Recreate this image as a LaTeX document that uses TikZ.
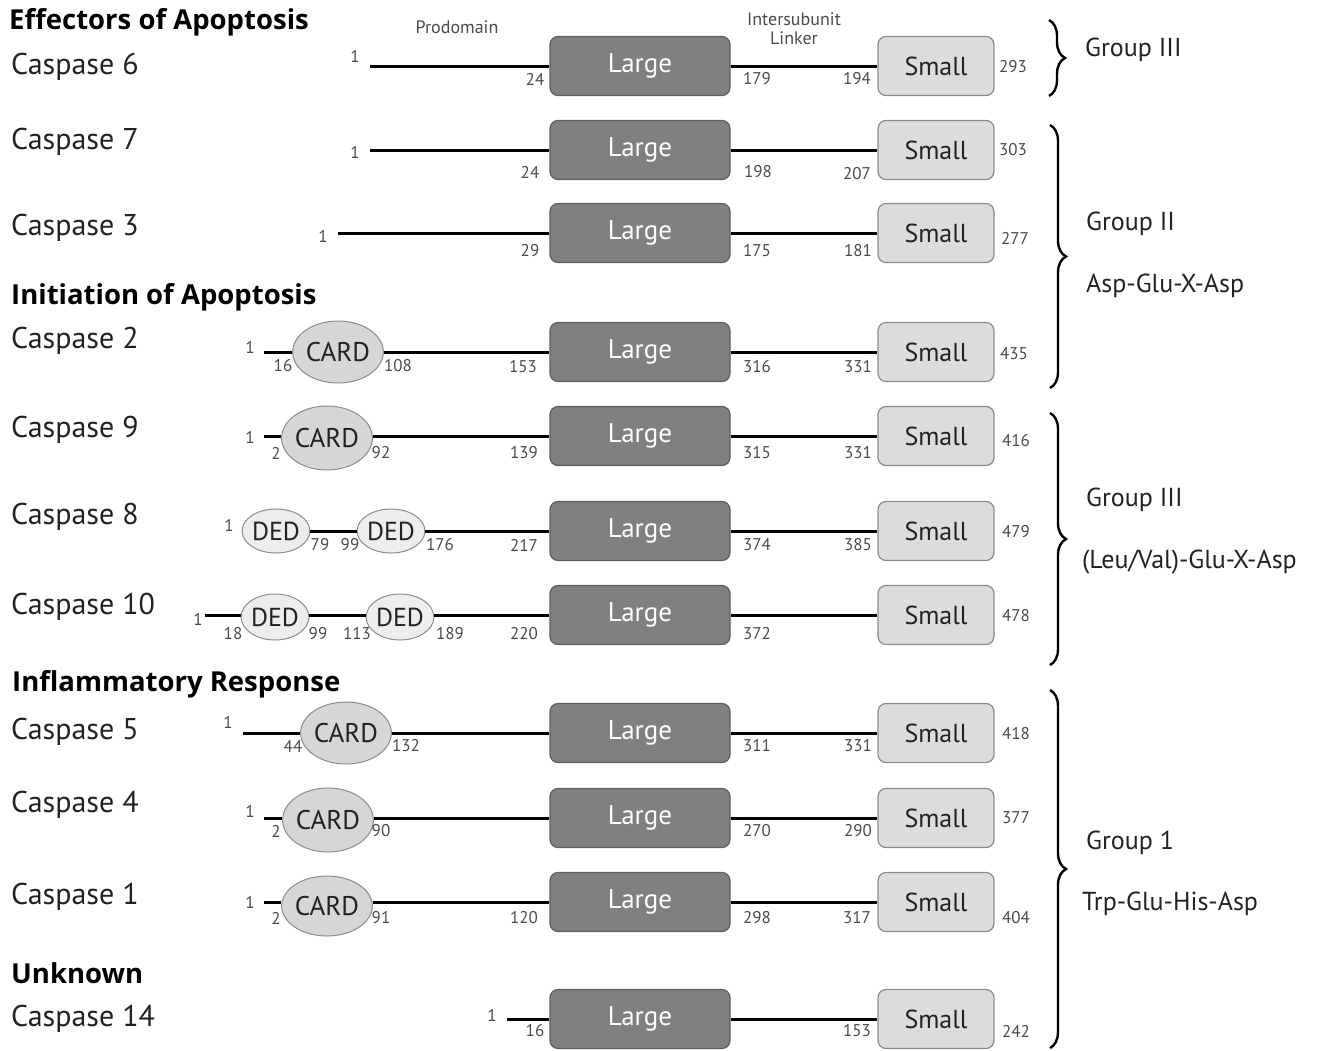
\documentclass[tikz,border=0pt]{standalone}
\usepackage{fontspec}
\setmainfont{PT Sans}
\newfontfamily\headfont{Open Sans}
\usepackage{tikz}
\usetikzlibrary{positioning, shapes.geometric, decorations.pathreplacing, backgrounds}

\definecolor{largefill}{HTML}{808080}
\definecolor{largeedge}{HTML}{5E5E5E}
\definecolor{smallfill}{HTML}{DCDCDC}
\definecolor{smalledge}{HTML}{8C8C8C}
\definecolor{cardfill}{HTML}{D6D6D6}
\definecolor{dedfill}{HTML}{EDEDED}
\definecolor{numgray}{HTML}{4A4A4A}
\definecolor{txt}{HTML}{222222}

\newcommand{\fs}[1]{\fontsize{#1}{#1}\selectfont}

\begin{document}
\begin{tikzpicture}[x=1pt, y=-1pt]
	\tikzset{large/.style={draw=largeedge, fill=largefill, rounded corners=8pt, line width=1.2pt, minimum width=180pt, minimum height=59pt, text=white, font=\fs{27}}}
	\tikzset{small/.style={draw=smalledge, fill=smallfill, rounded corners=8pt, line width=1.2pt, minimum width=116pt, minimum height=59pt, text=txt, font=\fs{26}}}
	\tikzset{card/.style={ellipse, draw=smalledge, fill=cardfill, line width=1pt, inner sep=0pt, minimum width=82pt, minimum height=62pt, text=txt, font=\fs{27}}}
	\tikzset{ded/.style={ellipse, draw=smalledge, fill=dedfill, line width=1pt, inner sep=0pt, minimum width=60pt, minimum height=44pt, text=txt, font=\fs{26}}}
	\tikzset{chain/.style={line width=3pt, black}}
	\tikzset{num/.style={text=numgray, inner sep=0pt, font=\fs{17}}}
	\tikzset{casp/.style={anchor=west, text=txt, inner sep=0pt, font=\fs{30}}}
	\tikzset{head/.style={anchor=west, text=black, inner sep=0pt, font=\headfont\bfseries\fs{27.5}}}
	\tikzset{grp/.style={anchor=west, text=txt, inner sep=0pt, font=\fs{26}}}
	\tikzset{brace/.style={decorate, decoration={brace, amplitude=16pt}, line width=2.4pt}}

	\useasboundingbox (0,0) rectangle (1323,1050);

	% subunits, same place in every row
	\foreach \r/\y in {6/66, 7/150, 3/233, 2/352, 9/436, 8/531, 10/615, 5/733, 4/818, 1/902, 14/1019}
	{
		\node[large] (L\r) at (640,\y) {Large};
		\node[small] (S\r) at (936,\y) {Small};
		\draw[chain] (L\r) -- (S\r);
	};

	% prodomains
	\coordinate (s6) at (370,66);
	\draw[chain] (s6) -- (L6);
	\coordinate (s7) at (370,150);
	\draw[chain] (s7) -- (L7);
	\coordinate (s3) at (338,233);
	\draw[chain] (s3) -- (L3);

	\coordinate (s2) at (264,352);
	\node[card] (c2) at (338,352) {CARD};
	\draw[chain] (s2) -- (c2) -- (L2);

	\coordinate (s9) at (264,436);
	\node[card, minimum width=84pt, minimum height=64pt] (c9) at (327,438) {CARD};
	\draw[chain] (s9) -- (s9 -| c9.west) (s9 -| c9.east) -- (L9);

	\node[ded] (d8a) at (276,531) {DED};
	\node[ded] (d8b) at (391,531) {DED};
	\draw[chain] (d8a) -- (d8b) -- (L8);

	\coordinate (s10) at (205,615);
	\node[ded, minimum width=64pt, minimum height=46pt] (d10a) at (275,617) {DED};
	\node[ded, minimum width=62pt, minimum height=46pt] (d10b) at (400,617) {DED};
	\draw[chain] (s10) -- (s10 -| d10a.west) (s10 -| d10a.east) -- (s10 -| d10b.west) (s10 -| d10b.east) -- (L10);

	\coordinate (s5) at (243,733);
	\node[card] (c5) at (346,733) {CARD};
	\draw[chain] (s5) -- (c5) -- (L5);

	\coordinate (s4) at (264,818);
	\node[card, minimum width=84pt, minimum height=64pt] (c4) at (328,820) {CARD};
	\draw[chain] (s4) -- (s4 -| c4.west) (s4 -| c4.east) -- (L4);

	\coordinate (s1) at (264,902);
	\node[card, minimum width=84pt, minimum height=60pt] (c1) at (327,906) {CARD};
	\draw[chain] (s1) -- (s1 -| c1.west) (s1 -| c1.east) -- (L1);

	\coordinate (s14) at (507,1019);
	\draw[chain] (s14) -- (L14);

	% residue numbers
	\foreach \nm/\t/\x/\y in {
		a6/1/355/56, b6/24/535/79, c6/179/757/79, d6/194/857/79, e6/293/1013/67,
		a7/1/355/152, b7/24/530/172, c7/198/758/172, d7/207/857/174, e7/303/1013/150,
		a3/1/323/236, b3/29/530/251, c3/175/757/251, d3/181/858/251, e3/277/1015/238,
		a2/1/250/347, b2/16/283/366, c2/108/398/366, d2/153/523/367, e2/316/757/367, f2/331/858/367, g2/435/1014/354,
		a9/1/250/437, b9/2/276/453, c9/92/381/453, d9/139/524/453, e9/315/757/453, f9/331/858/453, g9/416/1016/441,
		a8/1/229/525, b8/79/320/545, c8/99/350/545, d8/176/440/545, e8/217/524/545, f8/374/757/545, g8/385/858/545, h8/479/1016/532,
		a10/1/198/619, b10/18/233/634, c10/99/318/634, d10/113/357/634, e10/189/450/634, f10/220/524/634, g10/372/757/634, h10/478/1016/616,
		a5/1/228/722, b5/44/293/746, c5/132/406/746, d5/311/757/746, e5/331/858/746, f5/418/1016/734,
		a4/1/250/811, b4/2/276/831, c4/90/381/831, d4/270/757/831, e4/290/858/831, f4/377/1016/818,
		a1/1/250/902, b1/2/276/918, c1/91/381/918, d1/120/524/918, e1/298/757/918, f1/317/857/918, g1/404/1016/918,
		a14/1/492/1015, b14/16/535/1031, c14/153/857/1031, d14/242/1016/1031}
	{ \node[num] (n\nm) at (\x,\y) {\t}; };

	% row names and section heads
	\node[head] (h1) at (9,22) {Effectors of Apoptosis};
	\node[head] (h2) at (11,297) {Initiation of Apoptosis};
	\node[head] (h3) at (12,684) {Inflammatory Response};
	\node[head] (h4) at (11,973) {Unknown};
	\foreach \r/\y in {6/67, 7/142, 3/228, 2/341, 9/430, 8/517, 10/607, 5/732, 4/805, 1/897, 14/1019}
	{ \node[casp] (k\r) at (11,\y) {Caspase \r}; };

	\node[text=numgray, font=\fs{18}] (pro) at (457,27) {Prodomain};
	\node[text=numgray, font=\fontsize{18}{19}\selectfont, align=center, inner sep=0pt] (link) at (794,29) {Intersubunit\\Linker};

	% groups
	\draw[brace] (1049,20) -- (1049,96);
	\node[grp] (g1) at (1085,50) {Group III};
	\draw[brace] (1050,125) -- (1050,388);
	\node[grp] (g2) at (1086,224) {Group II};
	\node[grp] (g2s) at (1086,286) {Asp-Glu-X-Asp};
	\draw[brace] (1050,413) -- (1050,665);
	\node[grp] (g3) at (1086,500) {Group III};
	\node[grp] (g3s) at (1082,562) {(Leu/Val)-Glu-X-Asp};
	\draw[brace] (1050,690) -- (1050,1048);
	\node[grp] (g4) at (1086,843) {Group 1};
	\node[grp] (g4s) at (1082,904) {Trp-Glu-His-Asp};
\end{tikzpicture}
\end{document}
